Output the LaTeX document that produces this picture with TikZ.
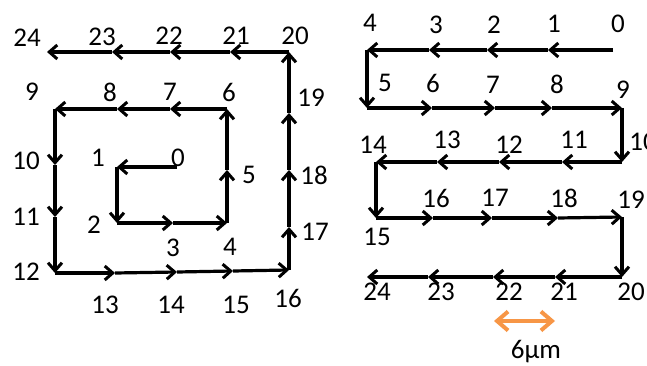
\documentclass[tikz,border=0pt]{standalone}
\usepackage{fontspec}
\setmainfont{Carlito}
\usetikzlibrary{arrows.meta}
\definecolor{scaleorange}{HTML}{F79646}
\begin{document}
\begin{tikzpicture}[x=1pt,y=-1pt,
  seg/.style={line width=3.2pt,-{Straight Barb[length=8pt,width=14pt,line width=3pt]}},
  lbl/.style={inner sep=0pt,font=\fontsize{27}{30}\selectfont},
  scalebar/.style={line width=4pt,draw=scaleorange,{Straight Barb[length=11pt,width=19pt,line width=4pt]}-{Straight Barb[length=11pt,width=19pt,line width=4pt]}}]
\useasboundingbox (0,0) rectangle (647,366);
% left spiral points
\coordinate (L0) at (177,167);
\coordinate (L1) at (117,167);
\coordinate (L2) at (117,223);
\coordinate (L3) at (173,223);
\coordinate (L4) at (227,223);
\coordinate (L5) at (227,170);
\coordinate (L6) at (227,109);
\coordinate (L7) at (170,109);
\coordinate (L8) at (117,109);
\coordinate (L9) at (55,109);
\coordinate (L10) at (55,165);
\coordinate (L11) at (55,217);
\coordinate (L12) at (55,273);
\coordinate (L13) at (115,273);
\coordinate (L14) at (177,272);
\coordinate (L15) at (233,271);
\coordinate (L16) at (289,270);
\coordinate (L17) at (289,227);
\coordinate (L18) at (289,170);
\coordinate (L19) at (289,113);
\coordinate (L20) at (289,52);
\coordinate (L21) at (230,52);
\coordinate (L22) at (170,52);
\coordinate (L23) at (112,52);
\coordinate (L24) at (47,52);
\foreach \a/\b in {0/1,1/2,2/3,3/4,4/5,5/6,6/7,7/8,8/9,9/10,10/11,11/12,12/13,13/14,14/15,15/16,16/17,17/18,18/19,19/20,20/21,21/22,22/23,23/24}
  \draw[seg] (L\a) -- (L\b);
% right snake points
\coordinate (R0) at (613,50);
\coordinate (R1) at (548,50);
\coordinate (R2) at (487,50);
\coordinate (R3) at (429,50);
\coordinate (R4) at (367,50);
\coordinate (R5) at (367,108);
\coordinate (R6) at (432,108);
\coordinate (R7) at (495,108);
\coordinate (R8) at (552,108);
\coordinate (R9) at (622,108);
\coordinate (R10) at (622,162);
\coordinate (R11) at (562,162);
\coordinate (R12) at (499,162);
\coordinate (R13) at (437,162);
\coordinate (R14) at (376,162);
\coordinate (R15) at (376,218);
\coordinate (R16) at (433,218);
\coordinate (R17) at (492,218);
\coordinate (R18) at (558,218);
\coordinate (R19) at (622,217);
\coordinate (R20) at (622,277);
\coordinate (R21) at (555,277);
\coordinate (R22) at (493,277);
\coordinate (R23) at (428,277);
\coordinate (R24) at (367,277);
\foreach \a/\b in {0/1,1/2,2/3,3/4,4/5,5/6,6/7,7/8,8/9,9/10,10/11,11/12,12/13,13/14,14/15,15/16,16/17,17/18,18/19,19/20,20/21,21/22,22/23,23/24}
  \draw[seg] (R\a) -- (R\b);
% left labels
\node[lbl] (tl0) at (178,158) {0};
\node[lbl] (tl1) at (98,158) {1};
\node[lbl] (tl2) at (94,225) {2};
\node[lbl] (tl3) at (173,248) {3};
\node[lbl] (tl4) at (230,247) {4};
\node[lbl] (tl5) at (249,175) {5};
\node[lbl] (tl6) at (229,92) {6};
\node[lbl] (tl7) at (170,92) {7};
\node[lbl] (tl8) at (110,92) {8};
\node[lbl] (tl9) at (32,92) {9};
\node[lbl] (tl10) at (26,161) {10};
\node[lbl] (tl11) at (26,217) {11};
\node[lbl] (tl12) at (26,272) {12};
\node[lbl] (tl13) at (105,305) {13};
\node[lbl] (tl14) at (171,305) {14};
\node[lbl] (tl15) at (236,305) {15};
\node[lbl] (tl16) at (288,298) {16};
\node[lbl] (tl17) at (315,232) {17};
\node[lbl] (tl18) at (314,175) {18};
\node[lbl] (tl19) at (311,98) {19};
\node[lbl] (tl20) at (295,36) {20};
\node[lbl] (tl21) at (236,36) {21};
\node[lbl] (tl22) at (169,36) {22};
\node[lbl] (tl23) at (102,37) {23};
\node[lbl] (tl24) at (27,38) {24};
% right labels
\node[lbl] (tr0) at (618,24) {0};
\node[lbl] (tr1) at (554,24) {1};
\node[lbl] (tr2) at (494,25) {2};
\node[lbl] (tr3) at (436,25) {3};
\node[lbl] (tr4) at (370,23) {4};
\node[lbl] (tr5) at (385,83) {5};
\node[lbl] (tr6) at (433,83) {6};
\node[lbl] (tr7) at (493,85) {7};
\node[lbl] (tr8) at (557,84) {8};
\node[lbl] (tr9) at (623,90) {9};
\node[lbl] (tr10) at (643,142) {10};
\node[lbl] (tr11) at (574,140) {11};
\node[lbl] (tr12) at (509,145) {12};
\node[lbl] (tr13) at (447,140) {13};
\node[lbl] (tr14) at (373,145) {14};
\node[lbl] (tr15) at (377,237) {15};
\node[lbl] (tr16) at (436,198) {16};
\node[lbl] (tr17) at (495,198) {17};
\node[lbl] (tr18) at (564,198) {18};
\node[lbl] (tr19) at (631,200) {19};
\node[lbl] (tr20) at (631,292) {20};
\node[lbl] (tr21) at (564,292) {21};
\node[lbl] (tr22) at (509,292) {22};
\node[lbl] (tr23) at (441,292) {23};
\node[lbl] (tr24) at (377,292) {24};
% scale bar
\coordinate (SA) at (494,321);
\coordinate (SB) at (555,321);
\draw[scalebar] (SA) -- (SB);
\node[lbl] (tscale) at (536,352) {6µm};
\end{tikzpicture}
\end{document}
